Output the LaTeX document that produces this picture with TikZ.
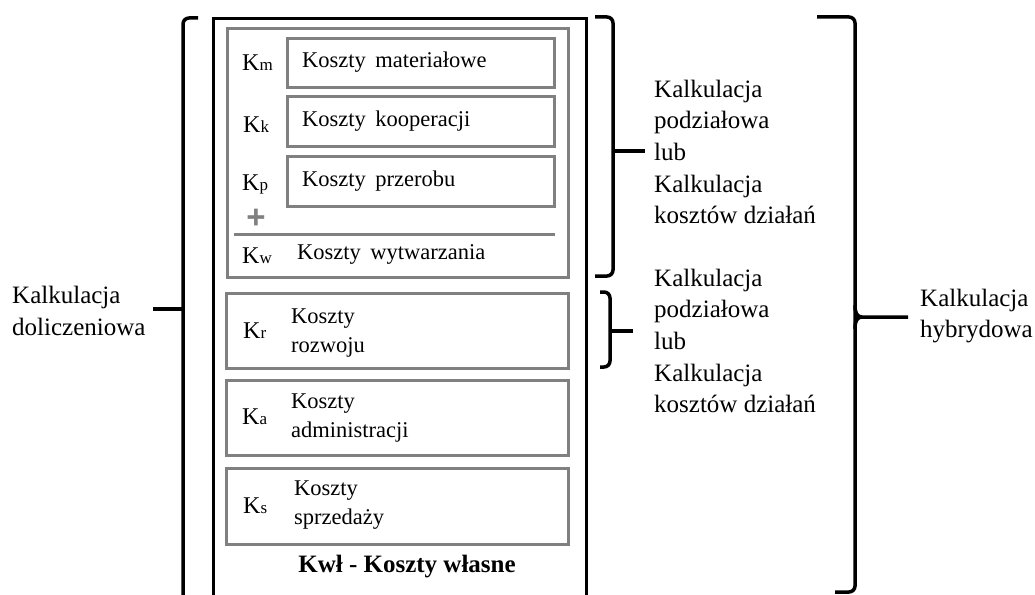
\documentclass[tikz,border=0pt]{standalone}
\usepackage{fontspec}
\setmainfont{Liberation Serif}
\newfontfamily\plusfont{Liberation Sans}
\definecolor{boxgray}{RGB}{128,128,128}
\begin{document}
\begin{tikzpicture}[x=1pt,y=-1pt,
  frame/.style={draw=black,line width=3pt,anchor=north west,inner sep=0pt},
  costbox/.style={draw=boxgray,line width=3pt,anchor=north west,inner sep=0pt},
  brace/.style={draw=black,line width=3.5pt,rounded corners=6pt},
  tip/.style={draw=black,line width=3.5pt},
  txt/.style={anchor=west,inner sep=0pt,align=left,font=\fontsize{22.5}{28.5}\selectfont},
  side/.style={anchor=west,inner sep=0pt,align=left,font=\fontsize{25}{31.6}\selectfont},
  klbl/.style={anchor=west,inner sep=0pt,font=\fontsize{24}{28}\selectfont}]
\useasboundingbox (0,0) rectangle (1035,594);
\clip (0,0) rectangle (1035,594);

% outer frame (open towards the bottom of the page)
\node[frame,minimum width=373pt,minimum height=620pt] (outer) at (212,17) {};

% group of manufacturing costs
\node[costbox,minimum width=341pt,minimum height=249pt] (grp) at (226,27) {};
\node[costbox,minimum width=267pt,minimum height=49pt] (km) at (286,37) {};
\node[costbox,minimum width=267pt,minimum height=50pt] (kk) at (286,95) {};
\node[costbox,minimum width=267pt,minimum height=50pt] (kp) at (286,155) {};

\node[klbl] (kmL) at (242,63) {K{\fontsize{17}{17}\selectfont m}};
\node[klbl] (kkL) at (243,125) {K{\fontsize{17}{17}\selectfont k}};
\node[klbl] (kpL) at (242,184) {K{\fontsize{17}{17}\selectfont p}};
\node[txt] (kmT) at (302,62) {Koszty\, materiałowe};
\node[txt] (kkT) at (302,121) {Koszty\, kooperacji};
\node[txt] (kpT) at (302,181) {Koszty\, przerobu};

\node[inner sep=0pt,text=boxgray,font=\plusfont\fontsize{33}{33}\selectfont\bfseries] (plus) at (256,219) {+};
\coordinate (sumL) at (234,234);
\coordinate (sumR) at (555,234);
\draw[draw=boxgray,line width=3pt] (sumL) -- (sumR);

\node[klbl] (kwL) at (242,256) {K{\fontsize{17}{17}\selectfont w}};
\node[txt] (kwT) at (297,254) {Koszty\, wytwarzania};

% remaining cost boxes
\node[costbox,minimum width=342pt,minimum height=75pt] (kr) at (225,292) {};
\node[costbox,minimum width=342pt,minimum height=75pt] (ka) at (225,379) {};
\node[costbox,minimum width=342pt,minimum height=76pt] (ks) at (225,467) {};

\node[klbl] (krL) at (243,331) {K{\fontsize{17}{17}\selectfont r}};
\node[klbl] (kaL) at (242,417) {K{\fontsize{17}{17}\selectfont a}};
\node[klbl] (ksL) at (243,506) {K{\fontsize{17}{17}\selectfont s}};
\node[txt] (krT) at (291,333) {Koszty\\rozwoju};
\node[txt] (kaT) at (291,418) {Koszty\\administracji};
\node[txt] (ksT) at (294,505) {Koszty\\sprzedaży};

\node[inner sep=0pt,font=\fontsize{25}{25}\selectfont\bfseries] (kwl) at (407,567) {Kwł - Koszty własne};

% side descriptions
\node[side] (dolicz) at (12,311) {Kalkulacja\\doliczeniowa};
\node[side] (podz1) at (654,152) {Kalkulacja\\podziałowa\\lub\\Kalkulacja\\kosztów działań};
\node[side] (podz2) at (654,341) {Kalkulacja\\podziałowa\\lub\\Kalkulacja\\kosztów działań};
\node[side] (hybr) at (920,316) {Kalkulacja\\hybrydowa};

% braces
\coordinate (lbTip) at (183,309);
\coordinate (lbEnd) at (153,309);
\draw[brace] (198,18) -- (183,18) -- (183,620);
\draw[tip] (lbTip) -- (lbEnd);

\coordinate (b1Tip) at (613,151);
\coordinate (b1End) at (645,151);
\draw[brace] (595,17) -- (613,17) -- (613,276) -- (595,276);
\draw[tip] (b1Tip) -- (b1End);

\coordinate (b2Tip) at (610,331);
\coordinate (b2End) at (633,331);
\draw[brace] (600,292) -- (610,292) -- (610,367) -- (600,367);
\draw[tip] (b2Tip) -- (b2End);

\coordinate (hbTip) at (862,317);
\coordinate (hbEnd) at (908,317);
\draw[brace] (817,17) -- (855,17) -- (855,592) -- (835,592);
\draw[tip] (855,305) .. controls (855,313) and (857,317) .. (hbTip) -- (hbEnd);
\draw[tip] (855,329) .. controls (855,321) and (857,317) .. (hbTip);
\end{tikzpicture}
\end{document}
